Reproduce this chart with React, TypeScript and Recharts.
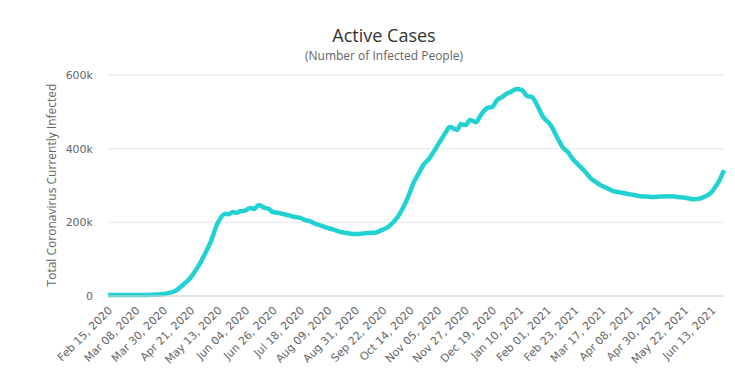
import React from "react";
import { LineChart, Line, XAxis, YAxis, CartesianGrid } from "recharts";

const days = [
  0, 10, 20, 30, 40, 46, 50, 55, 60, 66, 70, 74, 78, 82, 88, 94, 97, 100, 103, 106,
  110, 114, 117, 121, 125, 129, 132, 136, 140, 144, 148, 151, 154, 158, 162, 165, 170,
  176, 181, 186, 192, 197, 203, 208, 214, 219, 224, 229, 233, 237, 241, 245, 249, 253,
  258, 263, 268, 271, 274, 277, 280, 283, 287, 290, 293, 295, 299, 304, 308, 312, 316,
  319, 323, 326, 328, 332, 336, 340, 344, 349, 355, 360, 365, 369, 372, 379, 383, 387,
  391, 395, 400, 405, 411, 417, 422, 427, 432, 437, 443, 449, 454, 459, 464, 469, 474,
  478, 481, 484, 487, 490, 494,
];

const activeCases = [
  3000, 3000, 3000, 3000, 4000, 6000, 9000, 16000, 30000, 49000, 68000, 90000, 116000,
  144000, 198000, 223000, 222000, 228000, 226000, 230000, 232000, 239000, 236000, 247000,
  240000, 236000, 228000, 226000, 223000, 220000, 216000, 214000, 212000, 206000, 203000,
  198000, 192000, 185000, 180000, 174000, 171000, 168000, 169000, 171000, 172000, 178000,
  186000, 201000, 218000, 242000, 272000, 307000, 332000, 356000, 375000, 402000, 429000,
  445000, 459000, 455000, 451000, 467000, 464000, 478000, 475000, 472000, 491000, 510000,
  513000, 532000, 540000, 548000, 554000, 560000, 562000, 559000, 543000, 540000, 519000,
  486000, 464000, 432000, 402000, 390000, 375000, 350000, 336000, 320000, 310000, 301000,
  293000, 285000, 281000, 277000, 274000, 271000, 270000, 269000, 270000, 271000, 270000,
  268000, 266000, 263000, 264000, 269000, 274000, 282000, 296000, 312000, 342000,
];

const tickDays = [
  0, 22, 44, 66, 88, 110, 132, 154, 176, 198, 220, 242, 264, 286, 308, 330, 352, 374,
  396, 418, 440, 462, 484,
];

const tickLabels = [
  "Feb 15, 2020", "Mar 08, 2020", "Mar 30, 2020", "Apr 21, 2020", "May 13, 2020",
  "Jun 04, 2020", "Jun 26, 2020", "Jul 18, 2020", "Aug 09, 2020", "Aug 31, 2020",
  "Sep 22, 2020", "Oct 14, 2020", "Nov 05, 2020", "Nov 27, 2020", "Dec 19, 2020",
  "Jan 10, 2021", "Feb 01, 2021", "Feb 23, 2021", "Mar 17, 2021", "Apr 08, 2021",
  "Apr 30, 2021", "May 22, 2021", "Jun 13, 2021",
];

const yTicks = [0, 200000, 400000, 600000];

const data = days.map((d, i) => ({ day: d, active: activeCases[i] }));

const XTick = (props: any) => {
  const { x, y, payload } = props;
  const idx = tickDays.indexOf(payload.value);
  const ax = x + 5;
  const ay = y + 15;
  return (
    <text
      x={ax}
      y={ay}
      textAnchor="end"
      transform={`rotate(-45, ${ax}, ${ay})`}
      fill="#666666"
      fontSize={11}
      fontFamily="DejaVu Sans"
    >
      {idx >= 0 ? tickLabels[idx] : ""}
    </text>
  );
};

const fmtY = (v: number) => (v === 0 ? "0" : `${v / 1000}k`);

export default function App() {
  return (
    <div style={{ position: "absolute", left: 0, top: 0, width: 735, height: 385, background: "#fff" }}>
      <LineChart
        width={735}
        height={385}
        data={data}
        margin={{ top: 75, right: 11, bottom: 0, left: 0 }}
      >
        <CartesianGrid vertical={false} stroke="#e6e6e6" />
        <XAxis
          dataKey="day"
          type="number"
          domain={[0, 494]}
          ticks={tickDays}
          interval={0}
          tick={<XTick />}
          tickLine={false}
          tickSize={0}
          tickMargin={0}
          height={89}
          axisLine={{ stroke: "#d2d2d2" }}
        />
        <YAxis
          width={108}
          domain={[0, 600000]}
          ticks={yTicks}
          tickFormatter={fmtY}
          axisLine={false}
          tickLine={false}
          tickSize={0}
          tickMargin={15}
          tick={{ fill: "#666666", fontSize: 11, fontFamily: "DejaVu Sans" }}
        />
        <Line
          type="monotone"
          dataKey="active"
          stroke="#22d2d2"
          strokeWidth={4.5}
          dot={false}
          isAnimationActive={false}
        />
      </LineChart>
      <svg
        width={735}
        height={385}
        style={{ position: "absolute", left: 0, top: 0, pointerEvents: "none" }}
      >
        <text x={384} y={42} textAnchor="middle" fill="#333333" fontSize={18} fontFamily="Open Sans">
          Active Cases
        </text>
        <text x={384} y={60} textAnchor="middle" fill="#666666" fontSize={12} fontFamily="Open Sans">
          (Number of Infected People)
        </text>
        <text
          x={56}
          y={185}
          textAnchor="middle"
          transform="rotate(-90, 56, 185)"
          fill="#666666"
          fontSize={12}
          fontFamily="Open Sans"
        >
          Total Coronavirus Currently Infected
        </text>
      </svg>
    </div>
  );
}
